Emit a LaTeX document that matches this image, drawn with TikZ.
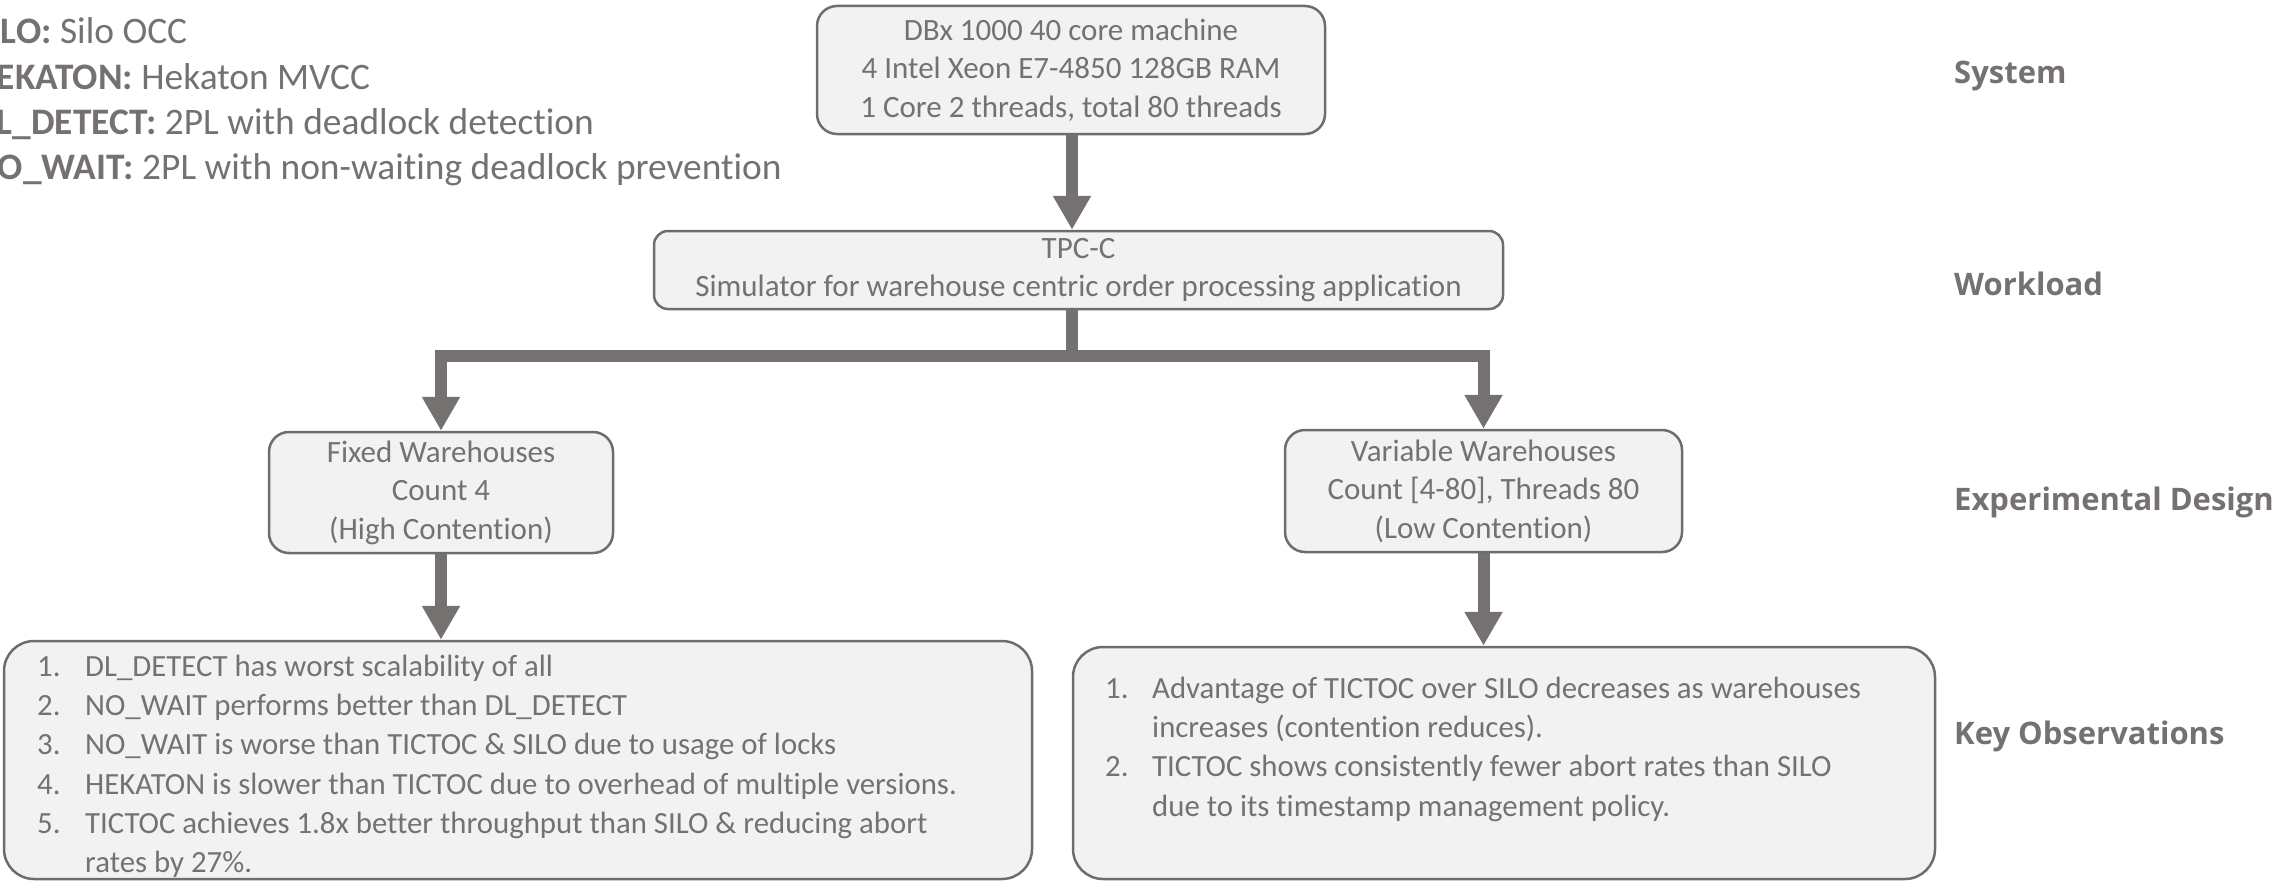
\documentclass[tikz,border=0pt]{standalone}
\usepackage{fontspec}
\setmainfont{Carlito}[RawFeature={-liga}]
\newfontfamily\lblfont{Open Sans}
\usetikzlibrary{arrows.meta}
\definecolor{txt}{RGB}{118,113,113}
\definecolor{edge}{RGB}{112,108,108}
\definecolor{boxfill}{RGB}{242,242,242}
\tikzset{
  box/.style={draw=edge, line width=2.5pt, fill=boxfill, rounded corners=#1, inner sep=0pt, text=txt, align=center, font=\fontsize{31}{38.5}\selectfont},
  box/.default=20pt,
  listtext/.style={inner sep=0pt, text=txt, align=left, font=\fontsize{30.8}{39.2}\selectfont},
  legendline/.style={inner sep=0pt, text=txt, anchor=base west, font=\fontsize{37.4}{45}\selectfont},
  levellabel/.style={inner sep=0pt, text=txt, anchor=base west, font=\lblfont\bfseries\fontsize{31}{36}\selectfont},
  plainbar/.style={draw=txt, line width=12pt},
  arr/.style={draw=txt, line width=12pt, line join=miter, -{Triangle[width=36pt,length=34pt]}}
}
\begin{document}
\begin{tikzpicture}[x=1pt,y=-1pt]
\useasboundingbox (0,0) rectangle (2295,883);

% legend (cut off at the left edge)
\node[legendline] (l1) at (-27,44) {\textbf{SILO:} Silo OCC};
\node[legendline] (l2) at (-27,89) {\textbf{HEKATON:} Hekaton MVCC};
\node[legendline] (l3) at (-27,134) {\textbf{DL\_DETECT:} 2PL with deadlock detection};
\node[legendline] (l4) at (-27,179) {\textbf{NO\_WAIT:} 2PL with non-waiting deadlock prevention};

% boxes
\node[box, minimum width=508pt, minimum height=128pt] (sys) at (1071,70)
  {DBx 1000 40 core machine\\4 Intel Xeon E7-4850 128GB RAM\\1 Core 2 threads, total 80 threads};
\node[box=14pt, minimum width=849pt, minimum height=78pt] (tpc) at (1078.5,270)
  {TPC-C\\Simulator for warehouse centric order processing application};
\node[box, minimum width=344pt, minimum height=121pt] (fixed) at (441,492.5)
  {Fixed Warehouses\\Count 4\\(High Contention)};
\node[box, minimum width=397pt, minimum height=122pt] (var) at (1483.5,491)
  {Variable Warehouses\\Count [4-80], Threads 80\\(Low Contention)};
\node[box=30pt, minimum width=1028pt, minimum height=238pt] (obsl) at (518,760) {};
\node[box=30pt, minimum width=862pt, minimum height=232pt] (obsr) at (1504,763) {};

\node[listtext, anchor=north west] (listl) at (37,655)
  {\makebox[48pt][l]{1.}DL\_DETECT has worst scalability of all\\
   \makebox[48pt][l]{2.}NO\_WAIT performs better than DL\_DETECT\\
   \makebox[48pt][l]{3.}NO\_WAIT is worse than TICTOC \& SILO due to usage of locks\\
   \makebox[48pt][l]{4.}HEKATON is slower than TICTOC due to overhead of multiple versions.\\
   \makebox[48pt][l]{5.}TICTOC achieves 1.8x better throughput than SILO \& reducing abort\\
   \hspace*{48pt}rates by 27\%.};
\node[listtext, anchor=north west] (listr) at (1105,677)
  {\makebox[47pt][l]{1.}Advantage of TICTOC over SILO decreases as warehouses\\
   \hspace*{47pt}increases (contention reduces).\\
   \makebox[47pt][l]{2.}TICTOC shows consistently fewer abort rates than SILO\\
   \hspace*{47pt}due to its timestamp management policy.};

% level labels
\node[levellabel] (lsys) at (1954,84) {System};
\node[levellabel] (lwl) at (1954,295) {Workload};
\node[levellabel] (led) at (1954,510) {Experimental Design};
\node[levellabel] (lko) at (1954,744) {Key Observations};

% connectors
\coordinate (j) at (1072,356);
\draw[arr] (sys.south -| j) -- (tpc.north -| j);
\draw[plainbar] (tpc.south -| j) -- (j);
\draw[arr] (j) -| (fixed.north);
\draw[arr] (j) -| (var.north);
\draw[arr] (fixed.south) -- (obsl.north -| fixed.south);
\draw[arr] (var.south) -- (obsr.north -| var.south);
\end{tikzpicture}
\end{document}
